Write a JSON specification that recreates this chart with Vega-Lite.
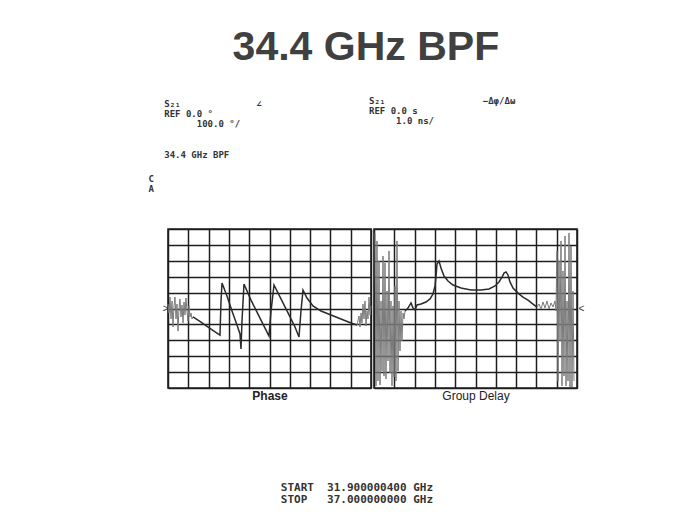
{
  "$schema": "https://vega.github.io/schema/vega-lite/v6.json",
  "background": "white",
  "padding": {"left": 147, "top": 27, "right": 5, "bottom": 5},
  "title": {"text": "34.4 GHz BPF", "font": "Liberation Sans", "fontSize": 41, "fontWeight": "bold", "color": "#404040", "anchor": "middle", "offset": 27},
  "datasets": {
    "phase": [
      {"f": 31.900, "v": 28, "seg": "n1", "part": "noise"},
      {"f": 31.925, "v": -28, "seg": "n1", "part": "noise"},
      {"f": 31.950, "v": 72, "seg": "n1", "part": "noise"},
      {"f": 31.975, "v": -66, "seg": "n1", "part": "noise"},
      {"f": 32.000, "v": 47, "seg": "n1", "part": "noise"},
      {"f": 32.026, "v": -116, "seg": "n1", "part": "noise"},
      {"f": 32.051, "v": 16, "seg": "n1", "part": "noise"},
      {"f": 32.076, "v": 72, "seg": "n1", "part": "noise"},
      {"f": 32.101, "v": -66, "seg": "n1", "part": "noise"},
      {"f": 32.126, "v": 28, "seg": "n1", "part": "noise"},
      {"f": 32.151, "v": -142, "seg": "n1", "part": "noise"},
      {"f": 32.176, "v": -3, "seg": "n1", "part": "noise"},
      {"f": 32.201, "v": 60, "seg": "n1", "part": "noise"},
      {"f": 32.227, "v": -53, "seg": "n1", "part": "noise"},
      {"f": 32.252, "v": 22, "seg": "n1", "part": "noise"},
      {"f": 32.277, "v": -91, "seg": "n1", "part": "noise"},
      {"f": 32.302, "v": 41, "seg": "n1", "part": "noise"},
      {"f": 32.327, "v": -41, "seg": "n1", "part": "noise"},
      {"f": 32.352, "v": 66, "seg": "n1", "part": "noise"},
      {"f": 32.377, "v": -16, "seg": "n1", "part": "noise"},
      {"f": 32.402, "v": -79, "seg": "n1", "part": "noise"},
      {"f": 32.428, "v": 16, "seg": "n1", "part": "noise"},
      {"f": 32.453, "v": -53, "seg": "n1", "part": "noise"},
      {"f": 32.478, "v": -28, "seg": "n1", "part": "noise"},
      {"f": 32.503, "v": -66, "seg": "n1", "part": "noise"},
      {"f": 32.528, "v": -53, "seg": "n1", "part": "noise"},
      {"f": 32.528, "v": -53, "seg": "t", "part": "trace"},
      {"f": 32.729, "v": -85, "seg": "t", "part": "trace"},
      {"f": 32.980, "v": -129, "seg": "t", "part": "trace"},
      {"f": 33.206, "v": -167, "seg": "t", "part": "trace"},
      {"f": 33.232, "v": 47, "seg": "t", "part": "trace"},
      {"f": 33.257, "v": 160, "seg": "t", "part": "trace"},
      {"f": 33.382, "v": 79, "seg": "t", "part": "trace"},
      {"f": 33.508, "v": -16, "seg": "t", "part": "trace"},
      {"f": 33.633, "v": -104, "seg": "t", "part": "trace"},
      {"f": 33.709, "v": -160, "seg": "t", "part": "trace"},
      {"f": 33.734, "v": -255, "seg": "t", "part": "trace"},
      {"f": 33.759, "v": -79, "seg": "t", "part": "trace"},
      {"f": 33.809, "v": 154, "seg": "t", "part": "trace"},
      {"f": 33.985, "v": 53, "seg": "t", "part": "trace"},
      {"f": 34.161, "v": -35, "seg": "t", "part": "trace"},
      {"f": 34.337, "v": -123, "seg": "t", "part": "trace"},
      {"f": 34.437, "v": -173, "seg": "t", "part": "trace"},
      {"f": 34.488, "v": -16, "seg": "t", "part": "trace"},
      {"f": 34.563, "v": 148, "seg": "t", "part": "trace"},
      {"f": 34.739, "v": 60, "seg": "t", "part": "trace"},
      {"f": 34.915, "v": -28, "seg": "t", "part": "trace"},
      {"f": 35.091, "v": -116, "seg": "t", "part": "trace"},
      {"f": 35.191, "v": -179, "seg": "t", "part": "trace"},
      {"f": 35.241, "v": -16, "seg": "t", "part": "trace"},
      {"f": 35.292, "v": 116, "seg": "t", "part": "trace"},
      {"f": 35.392, "v": 66, "seg": "t", "part": "trace"},
      {"f": 35.543, "v": 16, "seg": "t", "part": "trace"},
      {"f": 35.744, "v": -16, "seg": "t", "part": "trace"},
      {"f": 35.995, "v": -41, "seg": "t", "part": "trace"},
      {"f": 36.246, "v": -66, "seg": "t", "part": "trace"},
      {"f": 36.498, "v": -91, "seg": "t", "part": "trace"},
      {"f": 36.648, "v": -104, "seg": "t", "part": "trace"},
      {"f": 36.648, "v": -104, "seg": "n2", "part": "noise"},
      {"f": 36.699, "v": -47, "seg": "n2", "part": "noise"},
      {"f": 36.724, "v": -116, "seg": "n2", "part": "noise"},
      {"f": 36.749, "v": -28, "seg": "n2", "part": "noise"},
      {"f": 36.774, "v": -91, "seg": "n2", "part": "noise"},
      {"f": 36.799, "v": 28, "seg": "n2", "part": "noise"},
      {"f": 36.824, "v": -66, "seg": "n2", "part": "noise"},
      {"f": 36.849, "v": 47, "seg": "n2", "part": "noise"},
      {"f": 36.874, "v": -110, "seg": "n2", "part": "noise"},
      {"f": 36.900, "v": -16, "seg": "n2", "part": "noise"},
      {"f": 36.925, "v": -66, "seg": "n2", "part": "noise"},
      {"f": 36.950, "v": 72, "seg": "n2", "part": "noise"},
      {"f": 36.975, "v": -41, "seg": "n2", "part": "noise"},
      {"f": 37.000, "v": 16, "seg": "n2", "part": "noise"}
    ],
    "gd": [
      {"f": 31.925, "v": 4.75, "seg": "n1", "part": "noise"},
      {"f": 31.950, "v": -4.87, "seg": "n1", "part": "noise"},
      {"f": 31.975, "v": 4.25, "seg": "n1", "part": "noise"},
      {"f": 32.000, "v": -4.56, "seg": "n1", "part": "noise"},
      {"f": 32.026, "v": 2.99, "seg": "n1", "part": "noise"},
      {"f": 32.051, "v": -4.81, "seg": "n1", "part": "noise"},
      {"f": 32.076, "v": 0.47, "seg": "n1", "part": "noise"},
      {"f": 32.101, "v": -3.93, "seg": "n1", "part": "noise"},
      {"f": 32.126, "v": 3.30, "seg": "n1", "part": "noise"},
      {"f": 32.151, "v": -4.25, "seg": "n1", "part": "noise"},
      {"f": 32.176, "v": 2.86, "seg": "n1", "part": "noise"},
      {"f": 32.201, "v": -4.43, "seg": "n1", "part": "noise"},
      {"f": 32.227, "v": 1.10, "seg": "n1", "part": "noise"},
      {"f": 32.252, "v": -3.30, "seg": "n1", "part": "noise"},
      {"f": 32.277, "v": 3.62, "seg": "n1", "part": "noise"},
      {"f": 32.302, "v": -4.06, "seg": "n1", "part": "noise"},
      {"f": 32.327, "v": 0.47, "seg": "n1", "part": "noise"},
      {"f": 32.352, "v": -4.87, "seg": "n1", "part": "noise"},
      {"f": 32.377, "v": 0.16, "seg": "n1", "part": "noise"},
      {"f": 32.402, "v": -4.31, "seg": "n1", "part": "noise"},
      {"f": 32.428, "v": 1.42, "seg": "n1", "part": "noise"},
      {"f": 32.453, "v": -4.56, "seg": "n1", "part": "noise"},
      {"f": 32.478, "v": 4.25, "seg": "n1", "part": "noise"},
      {"f": 32.503, "v": -3.93, "seg": "n1", "part": "noise"},
      {"f": 32.528, "v": 0.47, "seg": "n1", "part": "noise"},
      {"f": 32.553, "v": -2.67, "seg": "n1", "part": "noise"},
      {"f": 32.578, "v": -0.16, "seg": "n1", "part": "noise"},
      {"f": 32.603, "v": -2.04, "seg": "n1", "part": "noise"},
      {"f": 32.629, "v": -0.28, "seg": "n1", "part": "noise"},
      {"f": 32.654, "v": -0.66, "seg": "n1", "part": "noise"},
      {"f": 32.679, "v": -0.16, "seg": "n1", "part": "noise"},
      {"f": 32.679, "v": -0.16, "seg": "t", "part": "trace"},
      {"f": 32.754, "v": 0.03, "seg": "t", "part": "trace"},
      {"f": 32.830, "v": 0.35, "seg": "t", "part": "trace"},
      {"f": 32.880, "v": 0.03, "seg": "t", "part": "trace"},
      {"f": 32.930, "v": -0.09, "seg": "t", "part": "trace"},
      {"f": 32.980, "v": 0.22, "seg": "t", "part": "trace"},
      {"f": 33.081, "v": 0.28, "seg": "t", "part": "trace"},
      {"f": 33.206, "v": 0.41, "seg": "t", "part": "trace"},
      {"f": 33.307, "v": 0.60, "seg": "t", "part": "trace"},
      {"f": 33.382, "v": 0.91, "seg": "t", "part": "trace"},
      {"f": 33.433, "v": 1.42, "seg": "t", "part": "trace"},
      {"f": 33.458, "v": 2.04, "seg": "t", "part": "trace"},
      {"f": 33.483, "v": 2.80, "seg": "t", "part": "trace"},
      {"f": 33.533, "v": 2.99, "seg": "t", "part": "trace"},
      {"f": 33.583, "v": 2.55, "seg": "t", "part": "trace"},
      {"f": 33.659, "v": 2.04, "seg": "t", "part": "trace"},
      {"f": 33.759, "v": 1.73, "seg": "t", "part": "trace"},
      {"f": 33.885, "v": 1.48, "seg": "t", "part": "trace"},
      {"f": 34.086, "v": 1.29, "seg": "t", "part": "trace"},
      {"f": 34.337, "v": 1.16, "seg": "t", "part": "trace"},
      {"f": 34.588, "v": 1.16, "seg": "t", "part": "trace"},
      {"f": 34.789, "v": 1.23, "seg": "t", "part": "trace"},
      {"f": 34.940, "v": 1.42, "seg": "t", "part": "trace"},
      {"f": 35.040, "v": 1.67, "seg": "t", "part": "trace"},
      {"f": 35.116, "v": 1.98, "seg": "t", "part": "trace"},
      {"f": 35.166, "v": 2.23, "seg": "t", "part": "trace"},
      {"f": 35.216, "v": 2.30, "seg": "t", "part": "trace"},
      {"f": 35.267, "v": 2.11, "seg": "t", "part": "trace"},
      {"f": 35.317, "v": 1.67, "seg": "t", "part": "trace"},
      {"f": 35.392, "v": 1.29, "seg": "t", "part": "trace"},
      {"f": 35.518, "v": 0.97, "seg": "t", "part": "trace"},
      {"f": 35.643, "v": 0.72, "seg": "t", "part": "trace"},
      {"f": 35.769, "v": 0.53, "seg": "t", "part": "trace"},
      {"f": 35.895, "v": 0.28, "seg": "t", "part": "trace"},
      {"f": 35.995, "v": 0.09, "seg": "t", "part": "trace"},
      {"f": 35.995, "v": 0.09, "seg": "n2", "part": "noise"},
      {"f": 36.045, "v": 0.28, "seg": "n2", "part": "noise"},
      {"f": 36.096, "v": -0.03, "seg": "n2", "part": "noise"},
      {"f": 36.146, "v": 0.41, "seg": "n2", "part": "noise"},
      {"f": 36.196, "v": 0.03, "seg": "n2", "part": "noise"},
      {"f": 36.246, "v": 0.47, "seg": "n2", "part": "noise"},
      {"f": 36.297, "v": -0.03, "seg": "n2", "part": "noise"},
      {"f": 36.347, "v": 0.35, "seg": "n2", "part": "noise"},
      {"f": 36.397, "v": 0.09, "seg": "n2", "part": "noise"},
      {"f": 36.447, "v": 0.47, "seg": "n2", "part": "noise"},
      {"f": 36.472, "v": -0.16, "seg": "n2", "part": "noise"},
      {"f": 36.497, "v": 3.62, "seg": "n2", "part": "noise"},
      {"f": 36.523, "v": -4.56, "seg": "n2", "part": "noise"},
      {"f": 36.548, "v": 2.99, "seg": "n2", "part": "noise"},
      {"f": 36.573, "v": -2.04, "seg": "n2", "part": "noise"},
      {"f": 36.598, "v": 4.25, "seg": "n2", "part": "noise"},
      {"f": 36.623, "v": -4.87, "seg": "n2", "part": "noise"},
      {"f": 36.648, "v": 2.36, "seg": "n2", "part": "noise"},
      {"f": 36.673, "v": -4.25, "seg": "n2", "part": "noise"},
      {"f": 36.699, "v": 4.56, "seg": "n2", "part": "noise"},
      {"f": 36.724, "v": -4.87, "seg": "n2", "part": "noise"},
      {"f": 36.749, "v": 0.47, "seg": "n2", "part": "noise"},
      {"f": 36.774, "v": -4.56, "seg": "n2", "part": "noise"},
      {"f": 36.799, "v": 4.75, "seg": "n2", "part": "noise"},
      {"f": 36.824, "v": -4.94, "seg": "n2", "part": "noise"},
      {"f": 36.849, "v": 3.93, "seg": "n2", "part": "noise"},
      {"f": 36.874, "v": -4.94, "seg": "n2", "part": "noise"},
      {"f": 36.900, "v": 1.10, "seg": "n2", "part": "noise"},
      {"f": 36.925, "v": -4.56, "seg": "n2", "part": "noise"}
    ]
  },
  "vconcat": [
    {
      "title": {"text": ["START\u00a0\u00a031.900000400\u00a0GHz", "STOP\u00a0\u00a0\u00a037.000000000\u00a0GHz"], "orient": "bottom", "anchor": "middle", "font": "DejaVu Sans Mono", "fontSize": 11, "fontWeight": "bold", "color": "#333333", "lineHeight": 12.5, "offset": 80, "dx": -9},
      "bounds": "flush",
      "spacing": 3,
      "hconcat": [
        {
          "width": 203,
          "height": 159,
          "title": {"text": ["\u200b\u00a0\u00a0\u00a0S₂₁\u00a0\u00a0\u00a0\u00a0\u00a0\u00a0\u00a0\u00a0\u00a0\u00a0\u00a0\u00a0\u00a0\u00a0∠", "\u200b\u00a0\u00a0\u00a0REF\u00a00.0\u00a0°", "\u200b\u00a0\u00a0\u00a0\u00a0\u00a0\u00a0\u00a0\u00a0\u00a0100.0\u00a0°/"],
                    "subtitle": "\u200b\u00a0\u00a0\u00a034.4\u00a0GHz\u00a0BPF", "subtitleFont": "DejaVu Sans Mono", "subtitleFontSize": 9, "subtitleFontWeight": "bold", "subtitleColor": "#333333", "subtitlePadding": 22,
                    "anchor": "start", "frame": "group", "font": "DejaVu Sans Mono", "fontSize": 9, "fontWeight": "bold", "color": "#333333", "lineHeight": 10, "dx": -20, "offset": 14},
          "data": {"name": "phase"},
          "mark": {"type": "line"},
          "encoding": {
            "x": {"field": "f", "type": "quantitative", "scale": {"domain": [31.9, 37.0], "nice": false, "zero": false},
                  "axis": {"title": "Phase", "values": [31.9, 32.41, 32.92, 33.43, 33.94, 34.45, 34.96, 35.47, 35.98, 36.49, 37.0], "labels": false, "ticks": false, "domain": false, "grid": true, "titleFont": "Liberation Sans", "titleFontSize": 12, "titleFontWeight": "bold", "titleColor": "#222222", "titlePadding": 2}},
            "y": {"field": "v", "type": "quantitative", "scale": {"domain": [-500, 500], "nice": false},
                  "axis": {"title": ["C", "A"], "titleAngle": 0, "titleAlign": "left", "titleBaseline": "alphabetic", "titleX": -20, "titleY": -48, "titleFont": "DejaVu Sans Mono", "titleFontSize": 9, "titleFontWeight": "bold", "titleColor": "#333333", "titleLineHeight": 10,
                           "values": [-500, -400, -300, -200, -100, 0, 100, 200, 300, 400, 500], "labelExpr": "datum.value === 0 ? '>' : ''", "labelFontSize": 10, "labelPadding": 0, "labelColor": "#333333", "ticks": false, "domain": false, "grid": true}},
            "color": {"field": "part", "type": "nominal", "scale": {"domain": ["trace", "noise"], "range": ["#2b2b2b", "#7a7a7a"]}, "legend": null},
            "strokeWidth": {"field": "part", "type": "nominal", "scale": {"domain": ["trace", "noise"], "range": [1.5, 1]}, "legend": null},
            "detail": {"field": "seg"}
          }
        },
        {
          "width": 203,
          "height": 159,
          "title": {"text": ["S₂₁\u00a0\u00a0\u00a0\u00a0\u00a0\u00a0\u00a0\u00a0\u00a0\u00a0\u00a0\u00a0\u00a0\u00a0\u00a0\u00a0\u00a0\u00a0−Δφ/Δω", "REF\u00a00.0\u00a0s", "\u200b\u00a0\u00a0\u00a0\u00a0\u00a01.0\u00a0ns/"], "anchor": "start", "frame": "group", "font": "DejaVu Sans Mono", "fontSize": 9, "fontWeight": "bold", "color": "#333333", "lineHeight": 10, "dx": -5, "offset": 103},
          "data": {"name": "gd"},
          "mark": {"type": "line"},
          "encoding": {
            "x": {"field": "f", "type": "quantitative", "scale": {"domain": [31.9, 37.0], "nice": false, "zero": false},
                  "axis": {"title": "Group Delay", "values": [31.9, 32.41, 32.92, 33.43, 33.94, 34.45, 34.96, 35.47, 35.98, 36.49, 37.0], "labels": false, "ticks": false, "domain": false, "grid": true, "titleFont": "Liberation Sans", "titleFontSize": 12, "titleFontWeight": "normal", "titleColor": "#222222", "titlePadding": 2}},
            "y": {"field": "v", "type": "quantitative", "scale": {"domain": [-5, 5], "nice": false},
                  "axis": {"orient": "right", "title": null, "values": [-5, -4, -3, -2, -1, 0, 1, 2, 3, 4, 5], "labelExpr": "datum.value === 0 ? '<' : ''", "labelFontSize": 10, "labelPadding": 1, "labelColor": "#333333", "ticks": false, "domain": false, "grid": true}},
            "color": {"field": "part", "type": "nominal", "scale": {"domain": ["trace", "noise"], "range": ["#2b2b2b", "#7a7a7a"]}, "legend": null},
            "strokeWidth": {"field": "part", "type": "nominal", "scale": {"domain": ["trace", "noise"], "range": [1.5, 1]}, "legend": null},
            "detail": {"field": "seg"}
          }
        }
      ]
    }
  ],
  "resolve": {"scale": {"color": "independent", "strokeWidth": "independent"}},
  "config": {
    "view": {"stroke": "#222222", "strokeWidth": 1.6},
    "axis": {"gridColor": "#1e1e1e", "gridWidth": 1.5, "gridOpacity": 1}
  }
}
